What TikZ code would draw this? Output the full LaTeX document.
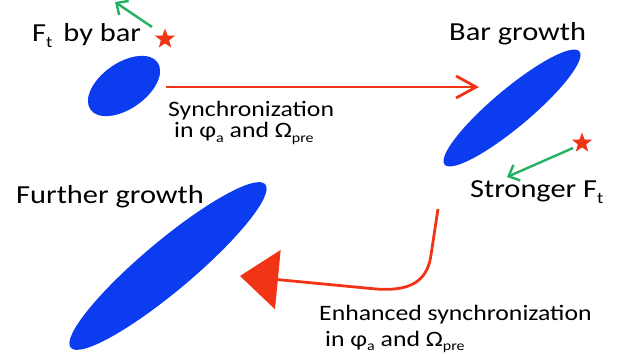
\documentclass[tikz,border=0pt]{standalone}
\usepackage{fontspec}
\setmainfont{Carlito}[FakeStretch=1.17]
\usetikzlibrary{shapes.geometric,arrows.meta}
\definecolor{barblue}{RGB}{12,60,240}
\definecolor{arrred}{RGB}{242,52,22}
\definecolor{arrgreen}{RGB}{36,178,98}
\newcommand\sbx[1]{\raisebox{-0.22em}{\scalebox{0.62}{#1}}}
\tikzset{
  bar/.style={ellipse, fill=barblue, draw=none, inner sep=0pt},
  redstar/.style={star, star points=5, star point ratio=2.4, fill=arrred, draw=none, minimum size=21pt, inner sep=0pt},
  biglabel/.style={anchor=base west, inner sep=0pt, font=\fontsize{26}{30}\selectfont},
  synclabel/.style={anchor=base west, inner sep=0pt, font=\fontsize{22}{26}\selectfont, align=left},
  redline/.style={draw=arrred, line width=2.8pt},
  greenarrow/.style={draw=arrgreen, line width=2.4pt, -{Straight Barb[length=9pt,width=17pt]}},
}
\begin{document}
\begin{tikzpicture}[x=1pt,y=-1pt]
\useasboundingbox (0,0) rectangle (626,355);
% bars
\node[bar, rotate=35, minimum width=82pt, minimum height=46pt] (b1) at (124,86) {};
\node[bar, rotate=40, minimum width=176pt, minimum height=38pt] (b2) at (512,108) {};
\node[bar, rotate=40, minimum width=254pt, minimum height=50pt] (b3) at (168,266) {};
% stars
\node[redstar] (s1) at (165,39) {};
\node[redstar] (s2) at (582,143) {};
% green arrows
\coordinate (g1) at (115,2);
\coordinate (g1s) at (152,27);
\draw[greenarrow] (g1s) -- (g1);
\coordinate (g2s) at (573,148);
\coordinate (g2) at (507,177);
\draw[greenarrow] (g2s) -- (g2);
% red arrow 1
\coordinate (r1s) at (166,87);
\coordinate (r1e) at (479,87);
\draw[redline, -{Straight Barb[length=20pt,width=22pt]}] (r1s) -- (r1e);
% red arrow 2
\coordinate (r2s) at (438,209);
\coordinate (r2a) at (431,255);
\coordinate (r2b) at (376,289);
\coordinate (r2e) at (240,276);
\draw[redline, -{Triangle[length=38pt,width=59pt]}] (r2s) -- (r2a) .. controls (427,285) and (405,291) .. (r2b) -- (r2e);
% labels
\node[biglabel] (t1) at (32,42) {F\sbx{t}\hspace{0.42em}by bar};
\node[biglabel] (t2) at (449,41) {Bar growth};
\node[biglabel] (t3) at (16,204) {Further growth};
\node[biglabel] (t4) at (470,198) {Stronger F\sbx{t}};
\node[synclabel] (t5) at (168,117) {Synchronization};
\node[synclabel] (t6) at (174,138) {in φ\sbx{a} and Ω\sbx{pre}};
\node[synclabel] (t7) at (319,320) {Enhanced synchronization};
\node[synclabel] (t8) at (325,346) {in φ\sbx{a} and Ω\sbx{pre}};
\end{tikzpicture}
\end{document}
